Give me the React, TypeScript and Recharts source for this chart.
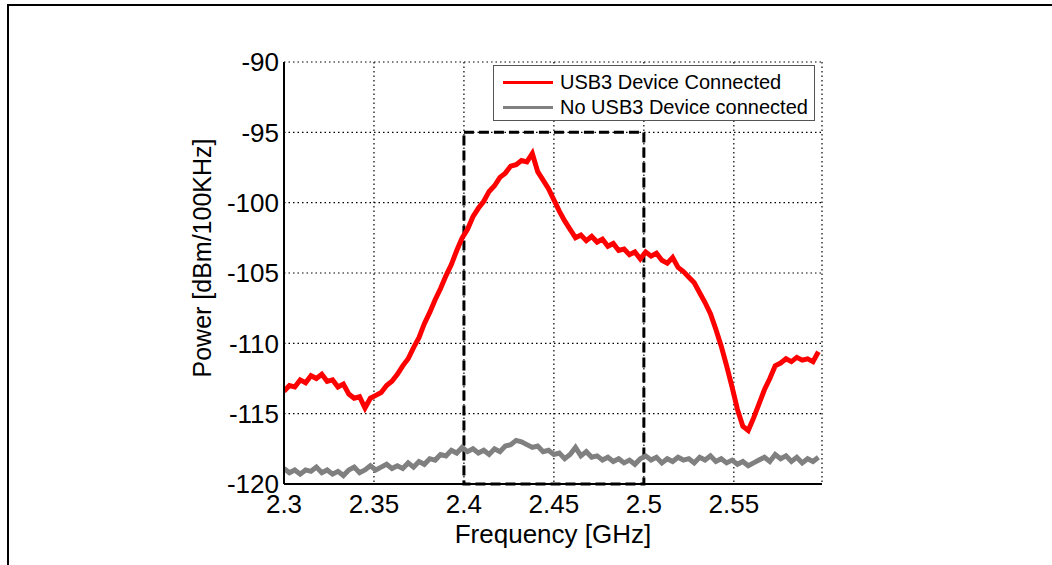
import React from 'react';
import { LineChart, Line, XAxis, YAxis, CartesianGrid, ReferenceArea, Legend, Label } from 'recharts';

const freqs = [
  2.300, 2.303, 2.306, 2.309, 2.312, 2.315, 2.318, 2.321, 2.324, 2.327,
  2.330, 2.333, 2.336, 2.339, 2.342, 2.345, 2.348, 2.351, 2.354, 2.357,
  2.360, 2.363, 2.366, 2.369, 2.372, 2.375, 2.378, 2.381, 2.384, 2.387,
  2.390, 2.393, 2.396, 2.399, 2.402, 2.405, 2.408, 2.411, 2.414, 2.417,
  2.420, 2.423, 2.426, 2.429, 2.432, 2.435, 2.438, 2.441, 2.444, 2.447,
  2.450, 2.453, 2.456, 2.459, 2.462, 2.465, 2.468, 2.471, 2.474, 2.477,
  2.480, 2.483, 2.486, 2.489, 2.492, 2.495, 2.498, 2.501, 2.504, 2.507,
  2.510, 2.513, 2.516, 2.519, 2.522, 2.525, 2.528, 2.531, 2.534, 2.537,
  2.540, 2.543, 2.546, 2.549, 2.552, 2.555, 2.558, 2.561, 2.564, 2.567,
  2.570, 2.573, 2.576, 2.579, 2.582, 2.585, 2.588, 2.591, 2.594, 2.597,
];

const usb3Connected = [
  -113.4, -113.0, -113.1, -112.6, -112.8, -112.3, -112.5, -112.2, -112.7, -112.6,
  -113.1, -112.9, -113.6, -113.9, -113.8, -114.6, -113.9, -113.7, -113.5, -113.0,
  -112.7, -112.2, -111.6, -111.1, -110.3, -109.6, -108.6, -107.8, -106.9, -106.1,
  -105.2, -104.4, -103.4, -102.5, -101.9, -101.0, -100.4, -99.9, -99.2, -98.8,
  -98.2, -97.9, -97.4, -97.3, -97.0, -97.1, -96.5, -97.8, -98.4, -99.0,
  -99.8, -100.6, -101.3, -101.9, -102.5, -102.3, -102.7, -102.4, -102.8, -102.6,
  -103.1, -102.9, -103.4, -103.3, -103.7, -103.5, -104.0, -103.5, -103.8, -103.6,
  -104.1, -104.3, -103.9, -104.6, -104.9, -105.3, -105.7, -106.4, -107.1, -107.9,
  -109.0, -110.2, -111.6, -113.1, -114.7, -115.9, -116.2, -115.3, -114.3, -113.3,
  -112.5, -111.6, -111.4, -111.1, -111.3, -111.0, -111.2, -111.1, -111.3, -110.6,
];

const noUsb3 = [
  -118.9, -119.2, -119.0, -119.3, -119.0, -119.1, -118.8, -119.2, -119.0, -119.3,
  -119.1, -119.4, -119.0, -118.8, -119.2, -119.0, -118.7, -119.0, -118.8, -118.6,
  -118.9, -118.7, -118.9, -118.5, -118.8, -118.4, -118.6, -118.2, -118.3, -117.9,
  -118.0, -117.6, -117.8, -117.4, -117.7, -117.5, -117.8, -117.6, -117.9, -117.5,
  -117.7, -117.3, -117.2, -116.9, -117.0, -117.2, -117.4, -117.3, -117.7, -117.6,
  -117.9, -117.8, -118.2, -117.9, -117.4, -118.0, -117.7, -118.1, -118.0, -118.3,
  -118.1, -118.4, -118.2, -118.5, -118.3, -118.6, -118.2, -118.0, -118.3, -118.1,
  -118.5, -118.2, -118.4, -118.1, -118.3, -118.2, -118.5, -118.1, -118.3, -118.0,
  -118.4, -118.2, -118.5, -118.3, -118.6, -118.4, -118.7, -118.5, -118.3, -118.1,
  -118.4, -117.9, -118.2, -118.0, -118.4, -118.1, -118.5, -118.2, -118.4, -118.1,
];

const xTicks = [2.3, 2.35, 2.4, 2.45, 2.5, 2.55];
const yTicks = [-120, -115, -110, -105, -100, -95, -90];
const xDomain = [2.3, 2.599];
const yDomain = [-120, -90];

// dashed box marking the 2.4-2.5 GHz band
const bandFreq = [2.4, 2.5];
const bandPower = [-120, -95];

const seriesNames = ['USB3 Device Connected', 'No USB3 Device connected'];
const seriesColors = ['#ff0000', '#808080'];

const data = freqs.map((f, i) => ({ freq: f, on: usb3Connected[i], off: noUsb3[i] }));

const FONT = '"Liberation Sans", Arial, Helvetica, sans-serif';
const tickStyle = { fontSize: 26, fill: '#000', fontFamily: FONT };
const edge = { stroke: '#000', strokeWidth: 2 };
const inTick = { stroke: '#000', strokeWidth: 1 };

const LegendBox = (props: any) => {
  const items = [...(props.payload || [])].sort(
    (a: any, b: any) => seriesNames.indexOf(a.value) - seriesNames.indexOf(b.value)
  );
  return (
    <div
      style={{
        width: 322,
        height: 56,
        border: '1px solid #555',
        background: '#fff',
        fontFamily: FONT,
        fontSize: 20,
        color: '#000',
        paddingTop: 4,
        boxSizing: 'border-box',
      }}
    >
      {items.map((it: any) => (
        <div key={it.value} style={{ display: 'flex', alignItems: 'center', height: 25 }}>
          <div style={{ width: 50, height: 3, background: it.color, marginLeft: 9, marginRight: 7 }} />
          <span style={{ lineHeight: '25px', whiteSpace: 'nowrap' }}>{it.value}</span>
        </div>
      ))}
    </div>
  );
};

const YTitle = (props: any) => {
  const vb = props.viewBox || { x: 0, y: 0, width: 0, height: 0 };
  const cx = vb.x + 202;
  const cy = vb.y + vb.height / 2 - 15;
  return (
    <text
      x={cx}
      y={cy}
      dy="0.355em"
      textAnchor="middle"
      transform={`rotate(-90, ${cx}, ${cy})`}
      style={{ fontSize: 25, fill: '#000', fontFamily: FONT }}
    >
      Power [dBm/100KHz]
    </text>
  );
};

export default function App() {
  return (
    <div style={{ position: 'absolute', left: 0, top: 0, width: 1052, height: 565, background: '#fff', fontFamily: FONT }}>
      <div style={{ position: 'absolute', left: 7, top: 4, width: 1045, height: 2, background: '#000' }} />
      <div style={{ position: 'absolute', left: 7, top: 4, width: 2, height: 561, background: '#000' }} />
      <LineChart width={1052} height={565} data={data} margin={{ top: 62, right: 230, bottom: 0, left: 0 }}>
        <CartesianGrid stroke="#000" strokeDasharray="1.5 3" strokeWidth={1.2} />
        <XAxis
          type="number"
          dataKey="freq"
          domain={xDomain}
          ticks={xTicks}
          interval={0}
          allowDataOverflow
          height={81}
          tickLine={false}
          tickSize={0}
          tickMargin={11}
          axisLine={edge}
          tick={tickStyle}
        >
          <Label value="Frequency [GHz]" position="insideBottom" offset={22} style={{ fontSize: 26, fill: '#000', fontFamily: FONT }} />
        </XAxis>
        <XAxis
          xAxisId="top"
          orientation="top"
          mirror
          type="number"
          dataKey="freq"
          domain={xDomain}
          ticks={xTicks}
          allowDataOverflow
          height={0}
          tick={false}
          tickSize={6}
          tickLine={inTick}
          axisLine={edge}
        />
        <XAxis
          xAxisId="bottomIn"
          mirror
          type="number"
          dataKey="freq"
          domain={xDomain}
          ticks={xTicks}
          allowDataOverflow
          height={0}
          tick={false}
          tickSize={6}
          tickLine={inTick}
          axisLine={false}
        />
        <YAxis
          type="number"
          domain={yDomain}
          ticks={yTicks}
          interval={0}
          allowDataOverflow
          width={284}
          tickLine={false}
          tickSize={0}
          tickMargin={5}
          axisLine={edge}
          tick={tickStyle}
        >
          <Label content={<YTitle />} />
        </YAxis>
        <YAxis
          yAxisId="right"
          orientation="right"
          mirror
          type="number"
          domain={yDomain}
          ticks={yTicks}
          allowDataOverflow
          width={0}
          tick={false}
          tickSize={6}
          tickLine={inTick}
          axisLine={edge}
        />
        <YAxis
          yAxisId="leftIn"
          mirror
          type="number"
          domain={yDomain}
          ticks={yTicks}
          allowDataOverflow
          width={0}
          tick={false}
          tickSize={6}
          tickLine={inTick}
          axisLine={false}
        />
        <ReferenceArea
          x1={bandFreq[0]}
          x2={bandFreq[1]}
          y1={bandPower[0]}
          y2={bandPower[1]}
          fill="none"
          fillOpacity={0}
          stroke="#000"
          strokeWidth={3}
          strokeDasharray="10 5"
        />
        <Line
          type="linear"
          dataKey="on"
          name={seriesNames[0]}
          stroke={seriesColors[0]}
          strokeWidth={5}
          dot={false}
          isAnimationActive={false}
        />
        <Line
          type="linear"
          dataKey="off"
          name={seriesNames[1]}
          stroke={seriesColors[1]}
          strokeWidth={5}
          dot={false}
          isAnimationActive={false}
        />
        <Legend
          layout="vertical"
          align="center"
          verticalAlign="middle"
          content={<LegendBox />}
          wrapperStyle={{ position: 'absolute', left: 493, top: 65, width: 324, height: 58 }}
        />
      </LineChart>
    </div>
  );
}
